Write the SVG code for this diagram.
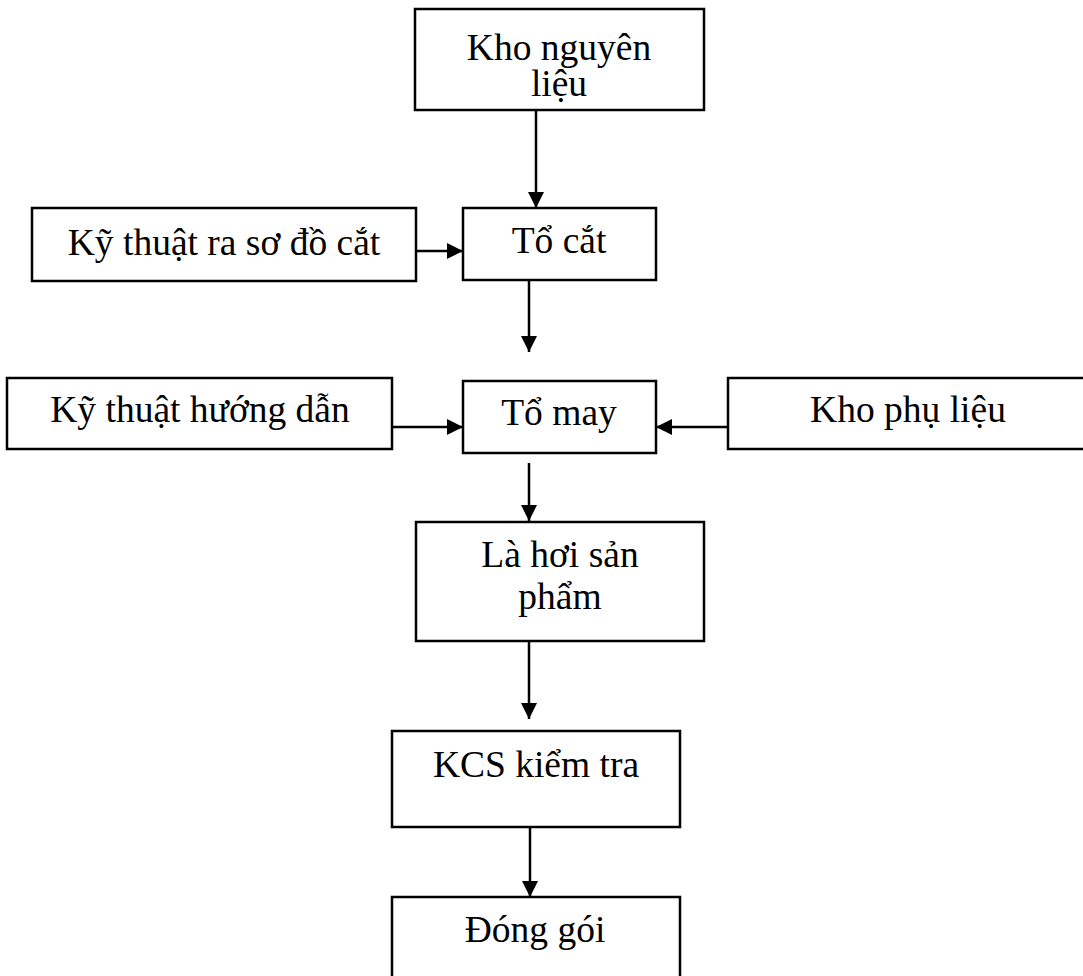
<svg xmlns="http://www.w3.org/2000/svg" width="1083" height="976" viewBox="0 0 1083 976">
<style>
.box{fill:#fff;stroke:#000;stroke-width:2.5}
.t{font-family:"Liberation Serif","Times New Roman",serif;font-size:37.5px;fill:#000;text-anchor:middle}
.c{stroke:#000;stroke-width:2.5;fill:none}
</style>
<defs>
<marker id="ah" viewBox="0 0 10 10" refX="10" refY="5" markerWidth="16" markerHeight="16" markerUnits="userSpaceOnUse" orient="auto">
<path d="M0,0 L10,5 L0,10 z" fill="#000"/>
</marker>
</defs>
<rect width="1083" height="976" fill="#fff"/>
<g id="connectors">
<line class="c" x1="536" y1="110" x2="536" y2="208" marker-end="url(#ah)"/>
<line class="c" x1="416" y1="251" x2="463" y2="251" marker-end="url(#ah)"/>
<line class="c" x1="529" y1="281" x2="529" y2="352" marker-end="url(#ah)"/>
<line class="c" x1="392" y1="427" x2="463" y2="427" marker-end="url(#ah)"/>
<line class="c" x1="727" y1="427" x2="656" y2="427" marker-end="url(#ah)"/>
<line class="c" x1="529" y1="463" x2="529" y2="521" marker-end="url(#ah)"/>
<line class="c" x1="529" y1="641" x2="529" y2="719" marker-end="url(#ah)"/>
<line class="c" x1="530" y1="827" x2="530" y2="897" marker-end="url(#ah)"/>
</g>
<g id="kho-nguyen-lieu">
<rect class="box" x="415" y="9" width="289" height="101"/>
<text class="t" x="559" y="60">Kho nguyên<tspan x="559" y="96">liệu</tspan></text>
</g>
<g id="ky-thuat-ra-so-do-cat">
<rect class="box" x="32" y="208" width="384" height="73"/>
<text class="t" x="224" y="255">Kỹ thuật ra sơ đồ cắt</text>
</g>
<g id="to-cat">
<rect class="box" x="463" y="208" width="193" height="72"/>
<text class="t" x="559" y="253">Tổ cắt</text>
</g>
<g id="ky-thuat-huong-dan">
<rect class="box" x="7" y="378" width="385" height="71"/>
<text class="t" x="200" y="422">Kỹ thuật hướng dẫn</text>
</g>
<g id="to-may">
<rect class="box" x="463" y="381" width="193" height="72"/>
<text class="t" x="559" y="425">Tổ may</text>
</g>
<g id="kho-phu-lieu">
<rect class="box" x="728" y="378" width="362" height="71"/>
<text class="t" x="908" y="422">Kho phụ liệu</text>
</g>
<g id="la-hoi-san-pham">
<rect class="box" x="416" y="522" width="288" height="119"/>
<text class="t" x="560" y="567">Là hơi sản<tspan x="560" y="609">phẩm</tspan></text>
</g>
<g id="kcs-kiem-tra">
<rect class="box" x="392" y="731" width="288" height="96"/>
<text class="t" x="536" y="777">KCS kiểm tra</text>
</g>
<g id="dong-goi">
<rect class="box" x="392" y="897" width="288" height="100"/>
<text class="t" x="535" y="942">Đóng gói</text>
</g>
</svg>
